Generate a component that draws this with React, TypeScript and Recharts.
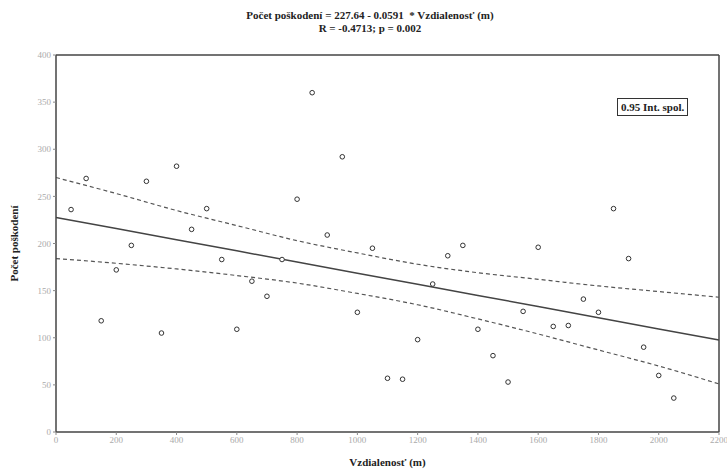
import { ComposedChart, Line, ReferenceLine, Scatter, XAxis, YAxis } from 'recharts'

// measured points (distance m, damage count)
const distances = [
  50, 100, 150, 200, 250, 300, 350, 400, 450, 500, 550, 600, 650, 700, 750, 800, 850, 900, 950, 1000, 1050,
  1100, 1150, 1200, 1250, 1300, 1350, 1400, 1450, 1500, 1550, 1600, 1650, 1700, 1750, 1800, 1850, 1900, 1950,
  2000, 2050,
]
const damages = [
  236, 269, 118, 172, 198, 266, 105, 282, 215, 237, 183, 109, 160, 144, 183, 247, 360, 209, 292, 127, 195,
  57, 56, 98, 157, 187, 198, 109, 81, 53, 128, 196, 112, 113, 141, 127, 237, 184, 90, 60, 36,
]

// fitted line and 0.95 band
const bandX = [0, 200, 400, 600, 800, 1000, 1200, 1400, 1600, 1800, 2000, 2200]
const fitY = [227.6, 215.8, 204.0, 192.2, 180.4, 168.5, 156.7, 144.9, 133.1, 121.3, 109.4, 97.6]
const upperY = [270, 253, 235, 219, 203, 190, 178, 169, 162, 155, 149, 143]
const lowerY = [184, 179, 173, 166, 158, 147, 135, 120, 104, 87, 70, 51]

const xTicks = [0, 200, 400, 600, 800, 1000, 1200, 1400, 1600, 1800, 2000, 2200]
const yTicks = [0, 50, 100, 150, 200, 250, 300, 350, 400]

const points = distances.map((x, i) => ({ x, y: damages[i] }))
const band = bandX.map((x, i) => ({ x, fit: fitY[i], upper: upperY[i], lower: lowerY[i] }))

const serif = '"Liberation Serif", "DejaVu Serif", serif'
const tickStyle = { fontSize: 9, fill: '#aaaaaa', fontFamily: serif }
const frame = { stroke: '#444', strokeWidth: 1.5 }

export default function App() {
  return (
    <div style={{ position: 'absolute', left: 0, top: 0, width: 727, height: 469, background: '#fff' }}>
      <div
        style={{
          position: 'absolute',
          left: 170,
          width: 400,
          top: 9,
          textAlign: 'center',
          fontFamily: serif,
          fontWeight: 'bold',
          fontSize: 11,
          lineHeight: '13px',
          color: '#222',
        }}
      >
        <div>Počet poškodení = 227.64 - 0.0591&nbsp; * Vzdialenosť (m)</div>
        <div>R = -0.4713; p = 0.002</div>
      </div>
      <ComposedChart width={727} height={469} margin={{ top: 55, right: 8, bottom: 0, left: 0 }}>
        <XAxis
          type="number"
          dataKey="x"
          domain={[0, 2200]}
          ticks={xTicks}
          interval={0}
          height={37}
          tick={tickStyle}
          tickSize={3}
          axisLine={frame}
          tickLine={{ stroke: '#888' }}
          label={{
            value: 'Vzdialenosť (m)',
            position: 'insideBottom',
            offset: 3,
            style: { fontFamily: serif, fontWeight: 'bold', fontSize: 11, fill: '#222' },
          }}
        />
        <YAxis
          type="number"
          domain={[0, 400]}
          ticks={yTicks}
          interval={0}
          width={56}
          tick={tickStyle}
          tickSize={3}
          axisLine={frame}
          tickLine={{ stroke: '#888' }}
          label={{
            value: 'Počet poškodení',
            angle: -90,
            position: 'insideLeft',
            offset: 14,
            style: { fontFamily: serif, fontWeight: 'bold', fontSize: 11, fill: '#222', textAnchor: 'middle' },
          }}
        />
        <ReferenceLine y={400} stroke="#444" strokeWidth={1.5} ifOverflow="extendDomain" />
        <ReferenceLine x={2200} stroke="#444" strokeWidth={1.5} ifOverflow="extendDomain" />
        <Line
          data={band}
          dataKey="upper"
          type="monotone"
          stroke="#555"
          strokeWidth={1.2}
          strokeDasharray="4 3"
          dot={false}
          isAnimationActive={false}
        />
        <Line
          data={band}
          dataKey="lower"
          type="monotone"
          stroke="#555"
          strokeWidth={1.2}
          strokeDasharray="4 3"
          dot={false}
          isAnimationActive={false}
        />
        <Line
          data={band}
          dataKey="fit"
          type="linear"
          stroke="#444"
          strokeWidth={1.5}
          dot={false}
          isAnimationActive={false}
        />
        <Scatter
          data={points}
          dataKey="y"
          isAnimationActive={false}
          shape={(p: any) => <circle cx={p.cx} cy={p.cy} r={2.3} fill="#fff" stroke="#333" strokeWidth={1} />}
        />
      </ComposedChart>
      <div
        style={{
          position: 'absolute',
          left: 617,
          top: 98,
          padding: '2px 3px',
          border: '1px solid #333',
          fontFamily: serif,
          fontWeight: 'bold',
          fontSize: 11,
          color: '#222',
          background: '#fff',
          zIndex: 4,
        }}
      >
        0.95 Int. spol.
      </div>
    </div>
  )
}
